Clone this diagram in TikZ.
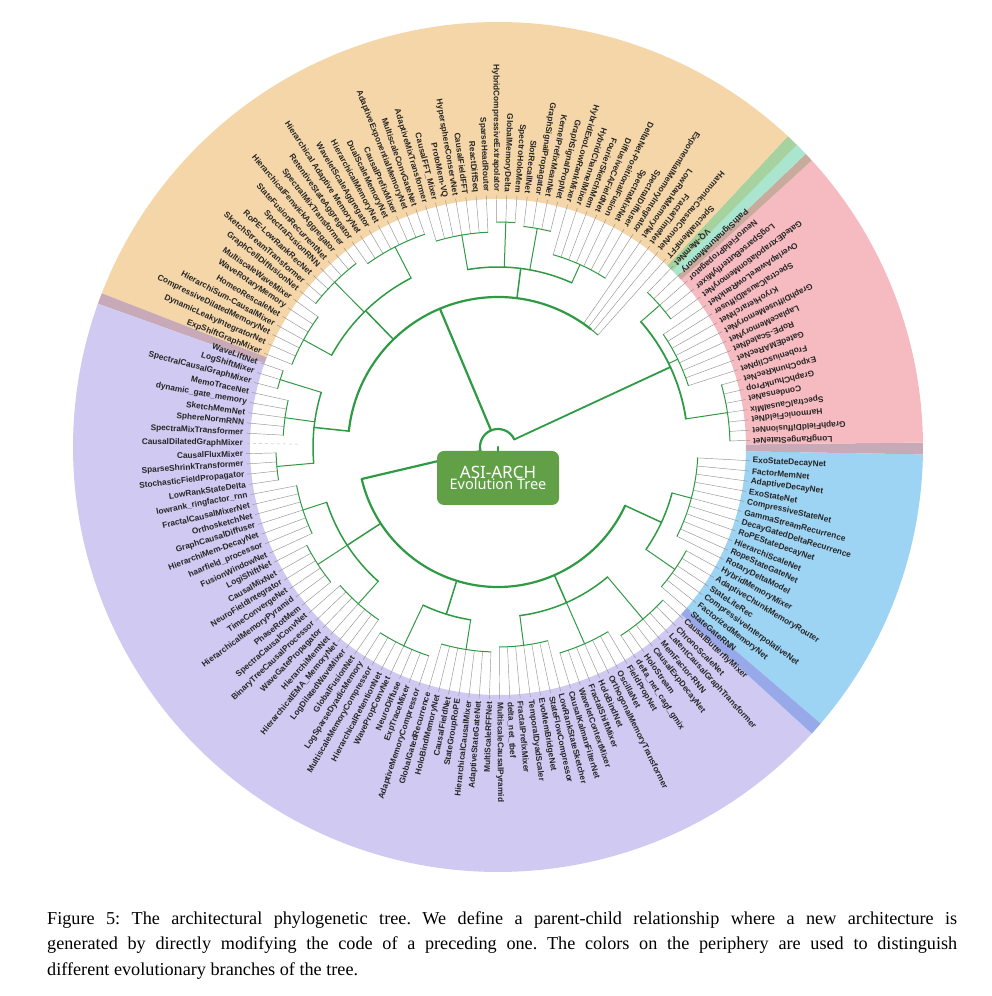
\documentclass[tikz,border=0pt]{standalone}
\usepackage{fontspec}
\setmainfont{Liberation Serif}
\newfontfamily\lblfont{Liberation Sans}[BoldFont={Liberation Sans Bold}]
\newfontfamily\nodefont{Noto Sans}
\usetikzlibrary{calc}
\definecolor{treegreen}{HTML}{2F9A44}
\definecolor{nodegreen}{HTML}{62A047}
\definecolor{cOrange}{HTML}{F5D6A8}
\definecolor{cPurple}{HTML}{D0C9F1}
\definecolor{cPink}{HTML}{F6BBC0}
\definecolor{cBlue}{HTML}{9DD3F3}
\definecolor{cTeal}{HTML}{A9E5CF}
\definecolor{cGreen}{HTML}{A5D29E}
\definecolor{cMauve}{HTML}{C8A9B8}
\definecolor{cBrown}{HTML}{C9AB9D}
\definecolor{cPeri}{HTML}{97A9E8}
\tikzset{
  tr/.style={draw=treegreen,line cap=round},
  leafl/.style={draw=gray!85,line width=0.45pt},
  lbl/.style={font=\lblfont\bfseries\fontsize{8.3}{9}\selectfont,text=black!85,inner sep=0pt},
}
\newcommand\mysector[3]{%
  \fill[#3] ([shift={(#1:248pt)}]C) arc[start angle=#1,end angle=#2,radius=248pt]
    -- ([shift={(#2:425pt)}]C) arc[start angle=#2,end angle=#1,radius=425pt] -- cycle;}
\newcommand\myclade[5]{%
  \pgfmathsetmacro\aA{1.5+(#1)*2.338}\pgfmathsetmacro\aB{1.5+(#2)*2.338}\pgfmathsetmacro\aM{(\aA+\aB)/2}%
  \foreach \k in {#1,...,#2}{\pgfmathsetmacro\aK{1.5+\k*2.338}\draw[leafl] ([shift={(\aK:#3pt)}]C) -- ([shift={(\aK:252pt)}]C);}%
  \draw[tr,line width=#5] ([shift={(\aA:#3pt)}]C) arc[start angle=\aA,end angle=\aB,radius=#3pt];%
  \draw[tr,line width=#5] ([shift={(\aM:#4pt)}]C) -- ([shift={(\aM:#3pt)}]C);}
\newcommand\myhub[6]{%
  \pgfmathsetmacro\hA{1.5+(#1)*2.338}\pgfmathsetmacro\hB{1.5+(#2)*2.338}\pgfmathsetmacro\hS{1.5+(#5)*2.338}%
  \draw[tr,line width=#6] ([shift={(\hA:#3pt)}]C) arc[start angle=\hA,end angle=\hB,radius=#3pt];%
  \draw[tr,line width=#6] ([shift={(\hS:#4pt)}]C) -- ([shift={(\hS:#3pt)}]C);}
\begin{document}
\begin{tikzpicture}[x=1pt,y=1pt]
\useasboundingbox (0,0) rectangle (992,996);
\coordinate (C) at (498,549);
% colored ring
\mysector{319.4}{359.0}{cBlue}
\mysector{359.0}{360.6}{cMauve}
\mysector{0.6}{42.4}{cPink}
\mysector{42.4}{43.6}{cBrown}
\mysector{43.6}{45.3}{cTeal}
\mysector{45.3}{47.0}{cGreen}
\mysector{47.0}{158.8}{cOrange}
\mysector{158.8}{160.3}{cMauve}
\mysector{160.3}{317.6}{cPurple}
\mysector{317.6}{319.4}{cPeri}
% labels
\foreach \t [count=\i from 0] in {LongRangeStateNet, GraphFieldDiffusionNet, HarmonicFieldNet, SpectralCausalMix, CondensaNet, GraphChunkProp, ExpoChunkRecNet, FrobeniusClipNet, GatedEMARecNet, RoPE-ScaledNet, LaplaceMemoryNet, GraphDiffuseMemoryNet, KryoHierarchNet, SpectralCausalDiffuser, OverlapAwareLowRankNet, GatedExtrapolationMemoryNet, LogSparseButterflyMixer, NeuroFieldPropagator, PathSignatureMemory, VQ-MemNet,
SpectralMemFFT, HarmonicCausalConvNet, FractalTimeNet, LowRankMemoryNet, ExponentialMemoryIntegrator, SpectralDiffuser, SpectraMixNet, DeltaNet-PositionalFusion, DiffusiveCAFieldNet, FourierSketchMem, HybridChannelMixer, HybridExoLowRankMixer, GraphSignalPropNet, KernelPrefixMeanNet, GraphSignalPropagator, SlotRecallNet, SpectroHoloMem, GlobalMemoryDelta, HybridCompressiveExtrapolator, SparseHeadRouter, ReactDiffSeq, CausalFieldFFT, HypersphereConservNet, ProtoMem-VQ, CausalFFT\_Mixer, AdaptiveMixTransformer, MultiscaleConvGateNet, AdaptiveExponentialMemoryNet, CausalPrefixMixer, DualScaleMemoryNet, HierarchicalMemoryNet, WaveletScaleAggregator, Hierarchical Adaptive MemoryNet, RetentiveStateAggregator, SpectralMixTransformer, HierarchicalFenwickAggregator, StateFusionRecurrentNet, SpectraFusionRNN, RoPE-LowRankRecNet, SketchStreamTransformer, GraphCellDiffusionNet, MultiscaleWaveMixer, WaveRotaryMemory, HomeoRescaleNet, HierarchiSum-CausalMixer, CompressiveDilatedMemoryNet, DynamicLeakyIntegratorNet, ExpShiftGraphMixer,
WaveLiftNet, LogShiftMixer, SpectralCausalGraphMixer, MemoTraceNet, dynamic\_gate\_memory, SketchMemNet, SphereNormRNN, SpectraMixTransformer, CausalDilatedGraphMixer, CausalFluxMixer, SparseShrinkTransformer, StochasticFieldPropagator, LowRankStateDelta, lowrank\_ringfactor\_rnn, FractalCausalMixerNet, OrthosketchNet, GraphCausalDiffuser, HierarchiMem-DecayNet, haarfield\_processor, FusionWindowNet, LogiShiftNet, CausalMixNet, NeuroFieldIntegrator, TimeConvergeNet, HierarchicalMemoryPyramid, PhaseRotMem, SpectraCausalConvNet, BinaryTreeCausalProcessor, WaveGatePropagator, HierarchiMemNet, HierarchicalEMA\_MemoryNet, LogDilatedWaveMixer, GlobalFusionNet, LogSparseDyadicMemory, MultiscaleMemoryCompressor, HierarchicalRetentionNet, WavePropConvNet, NeuroDiffuse, ExpTraceMixer, AdaptiveMemoryCompressor, GlobalGatedRecurrence, HoloBindMemoryNet, CausalFieldNet, StateGroupRoPE, HierarchicalCausalMixer, AdaptiveStateGateNet, MultiScaleRFFNet, MultiscaleCausalPyramid, delta\_net\_tbef, FractalPrefixMixer, TemporalDyadScaler, EvoMemBridgeNet, StateFlowCompressor, LowRankStateSketcher, CausalKalmanFilterNet, WaveletContextMixer, FractalShiftMixer, HoloBindNet, OrthogonalMemoryTransformer, OscillaNet, FieldPropNet, delta\_net\_cagf\_gmix, HoloStream, CausalExpDecayNet, MemFactor-RNN, LatentCausalGraphTransformer, ChronoScaleNet, CausalButterflyMixer,
StateGateRNN, FactorizedMemoryNet, CompressiveInterpolativeNet, StateLiteRec, AdaptiveChunkMemoryRouter, HybridMemoryMixer, RotaryDeltaModel, RopeStateGateNet, HierarchiScaleNet, RoPEStateDecayNet, DecayGatedDeltaRecurrence, GammaStreamRecurrence, CompressiveStateNet, ExoStateNet, AdaptiveDecayNet, FactorMemNet, ExoStateDecayNet}{
  \pgfmathsetmacro\a{1.5+\i*2.338}
  \pgfmathparse{\a>269?1:0}
  \ifnum\pgfmathresult=1
    \node[lbl,anchor=west,rotate=\a] (L\i) at ([shift={(\a:255pt)}]C) {\t};
  \else
    \node[lbl,anchor=east,rotate=\a+180] (L\i) at ([shift={(\a:255pt)}]C) {\t};
  \fi
}
% terminal clades
\myclade{0}{6}{232}{190}{1pt}
\myclade{7}{14}{200}{190}{1pt}
\myclade{15}{19}{215}{190}{1pt}
\myclade{20}{23}{150}{150}{1pt}
\myclade{24}{31}{200}{180}{1pt}
\myclade{32}{35}{222}{180}{1pt}
\myclade{36}{38}{225}{180}{1pt}
\myclade{39}{45}{215}{180}{1pt}
\myclade{46}{53}{225}{190}{1pt}
\myclade{54}{60}{232}{190}{1pt}
\myclade{61}{67}{222}{190}{1pt}
\myclade{68}{70}{228}{185}{1pt}
\myclade{71}{75}{215}{185}{1pt}
\myclade{77}{80}{222}{185}{1pt}
\myclade{81}{87}{205}{180}{1pt}
\myclade{88}{93}{215}{180}{1pt}
\myclade{94}{100}{210}{180}{1pt}
\myclade{101}{107}{220}{175}{1pt}
\myclade{108}{114}{205}{175}{1pt}
\myclade{115}{121}{200}{170}{1pt}
\myclade{122}{128}{215}{170}{1pt}
\myclade{129}{135}{225}{170}{1pt}
\myclade{136}{141}{215}{180}{1pt}
\myclade{142}{152}{200}{180}{1pt}
% unattached leaf
\pgfmathsetmacro\aX{1.5+76*2.338}
\draw[leafl,dashed,draw=gray!50] ([shift={(\aX:200pt)}]C) -- ([shift={(\aX:252pt)}]C);
% hubs
\myhub{3}{17}{190}{18}{10}{1.8pt}
\myhub{27.5}{42}{180}{150}{34.75}{1.5pt}
\myhub{49.5}{64}{190}{150}{56.75}{1.5pt}
\myhub{69}{78.5}{185}{150}{73.75}{1.5pt}
\myhub{21.5}{73.75}{150}{18}{47.6}{2.2pt}
\myhub{84}{97}{180}{140}{90.5}{1.5pt}
\myhub{104}{111}{175}{140}{107.5}{1.5pt}
\myhub{118}{132}{170}{140}{125}{1.5pt}
\myhub{138.5}{147}{180}{140}{142.75}{1.5pt}
\myhub{82}{142.75}{140}{18}{82}{2.2pt}
% root hump
\draw[tr,line width=2.2pt] ([shift={(24.9:18pt)}]C) arc[start angle=24.9,end angle=193.2,radius=18pt];
\node[fill=nodegreen,rounded corners=7pt,minimum width=122pt,minimum height=54pt,text=white,align=center,inner sep=2pt,font=\nodefont] (root) at (498,518)
  {{\fontsize{17}{19}\selectfont ASI-ARCH}\\[-1pt]{\fontsize{14.5}{17}\selectfont Evolution Tree}};
\draw[tr,line width=2.2pt] (C) -- (root.north);
% caption
\node[anchor=north west,text width=910pt,align=justify,inner sep=0pt,font=\frenchspacing\fontsize{18.2}{25.5}\selectfont] (cap) at (47,85)
{Figure 5: The architectural phylogenetic tree. We define a parent-child relationship where a new architecture is\linebreak generated by directly modifying the code of a preceding one. The colors on the periphery are used to distinguish\linebreak different evolutionary branches of the tree.};
\end{tikzpicture}
\end{document}
